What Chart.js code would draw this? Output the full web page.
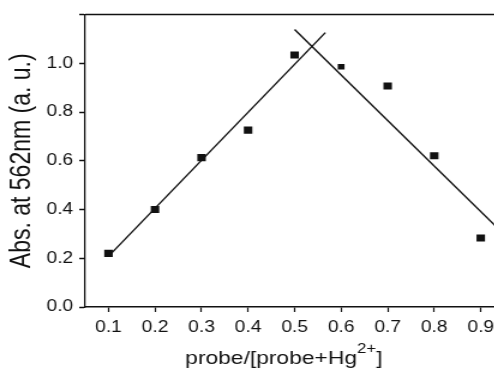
<!DOCTYPE html>
<html>
<head>
<meta charset="utf-8">
<title>Job plot</title>
<script src="https://cdn.jsdelivr.net/npm/chart.js@4.4.1/dist/chart.umd.min.js"></script>
<style>
    html, body { margin: 0; padding: 0; background: #fff; overflow: hidden; }
    /* the source figure is stretched a little horizontally */
    #frame { width: 412px; height: 370px; overflow: hidden; transform: scaleX(1.2); transform-origin: 0 0; }
    #inner { width: 425px; height: 370px; position: relative; }
</style>
</head>
<body>
<div id="frame"><div id="inner"><canvas id="jobChart"></canvas></div></div>
<script>
// ======================== data ========================

// mole fraction probe/[probe+Hg2+]
const ratioValues = [0.1, 0.2, 0.3, 0.4, 0.5, 0.6, 0.7, 0.8, 0.9];
// absorbance at 562 nm
const absValues = [0.22, 0.40, 0.613, 0.726, 1.034, 0.986, 0.907, 0.621, 0.283];

// two fitted lines (end points)
const leftFitX = [0.106, 0.566];
const leftFitY = [0.22, 1.126];
const rightFitX = [0.5, 0.95];
const rightFitY = [1.139, 0.298];

// axis ticks
const xTickValues = [0.1, 0.2, 0.3, 0.4, 0.5, 0.6, 0.7, 0.8, 0.9];
const yTickValues = [0, 0.2, 0.4, 0.6, 0.8, 1.0, 1.2];
const yTickLabels = ['0.0', '0.2', '0.4', '0.6', '0.8', '1.0', ''];

// axis titles (x title has a superscript part)
const xTitleMain = 'probe/[probe+Hg';
const xTitleSup = '2+';
const xTitleEnd = ']';
const yTitle = 'Abs. at 562nm (a. u.)';

// ======================== helpers ========================

const fontFamily = '"Liberation Sans", Arial, sans-serif';
const inkColor = '#111';

function toPoints(xs, ys) {
    return xs.map((x, i) => ({ x: x, y: ys[i] }));
}

// top frame line + x axis title with a real superscript
const framePlugin = {
    id: 'frameAndTitle',
    afterDraw(chart) {
        const { ctx, chartArea } = chart;
        ctx.save();
        ctx.strokeStyle = inkColor;
        ctx.lineWidth = 1.5;
        ctx.beginPath();
        ctx.moveTo(chartArea.left, chartArea.top);
        ctx.lineTo(chartArea.right, chartArea.top);
        ctx.stroke();

        // x title
        const mainFont = '19px ' + fontFamily;
        const supFont = '14px ' + fontFamily;
        ctx.fillStyle = inkColor;
        ctx.textBaseline = 'alphabetic';
        ctx.textAlign = 'left';
        ctx.font = mainFont;
        const wMain = ctx.measureText(xTitleMain).width;
        const wEnd = ctx.measureText(xTitleEnd).width;
        ctx.font = supFont;
        const wSup = ctx.measureText(xTitleSup).width;
        const total = wMain + wSup + wEnd;
        const centerX = (chartArea.left + chartArea.right) / 2 - 9;
        const baseY = chart.height - 6;
        let x = centerX - total / 2;
        ctx.font = mainFont;
        ctx.fillText(xTitleMain, x, baseY);
        x += wMain;
        ctx.font = supFont;
        ctx.fillText(xTitleSup, x, baseY - 11);
        x += wSup;
        ctx.font = mainFont;
        ctx.fillText(xTitleEnd, x, baseY);
        ctx.restore();
    }
};

// ======================== chart ========================

const ctx = document.getElementById('jobChart').getContext('2d');

window.jobChart = new Chart(ctx, {
    type: 'scatter',
    data: {
        datasets: [
            {
                label: 'Abs',
                data: toPoints(ratioValues, absValues),
                backgroundColor: inkColor,
                borderColor: inkColor,
                borderWidth: 0,
                pointStyle: 'rect',
                pointRadius: c => (c.dataIndex === 5 ? 4 : 5)
            },
            {
                label: 'fit left',
                data: toPoints(leftFitX, leftFitY),
                showLine: true,
                pointRadius: 0,
                borderColor: inkColor,
                borderWidth: 1.4,
                fill: false
            },
            {
                label: 'fit right',
                data: toPoints(rightFitX, rightFitY),
                showLine: true,
                pointRadius: 0,
                borderColor: inkColor,
                borderWidth: 1.4,
                fill: false
            }
        ]
    },
    options: {
        responsive: true,
        maintainAspectRatio: false,
        animation: false,
        layout: {
            padding: { left: 0, right: 4, top: 14, bottom: 0 }
        },
        plugins: {
            legend: { display: false },
            tooltip: { enabled: false }
        },
        scales: {
            x: {
                type: 'linear',
                min: 0.05,
                max: 0.95,
                afterBuildTicks: scale => {
                    scale.ticks = xTickValues.map(v => ({ value: v }));
                },
                afterFit: scale => {
                    scale.height = 63;
                },
                ticks: {
                    callback: v => v.toFixed(1),
                    color: inkColor,
                    font: { family: fontFamily, size: 16 },
                    padding: 6,
                    maxRotation: 0,
                    autoSkip: false
                },
                grid: {
                    drawOnChartArea: false,
                    tickLength: 5,
                    tickColor: inkColor,
                    tickWidth: 1.2
                },
                border: { color: inkColor, width: 1.5 },
                title: { display: false }
            },
            y: {
                min: 0,
                max: 1.2,
                afterBuildTicks: scale => {
                    scale.ticks = yTickValues.map(v => ({ value: v }));
                },
                afterFit: scale => {
                    scale.width = 71;
                },
                ticks: {
                    callback: (v, i) => yTickLabels[i],
                    color: inkColor,
                    font: { family: fontFamily, size: 16 },
                    padding: 5,
                    autoSkip: false
                },
                grid: {
                    drawOnChartArea: false,
                    tickLength: 5,
                    tickColor: inkColor,
                    tickWidth: 1.5
                },
                border: { color: inkColor, width: 1.25 },
                title: {
                    display: true,
                    text: yTitle,
                    color: inkColor,
                    font: { family: fontFamily, size: 23 },
                    padding: { top: 5, bottom: 0 }
                }
            }
        }
    },
    plugins: [framePlugin]
});
</script>
</body>
</html>
